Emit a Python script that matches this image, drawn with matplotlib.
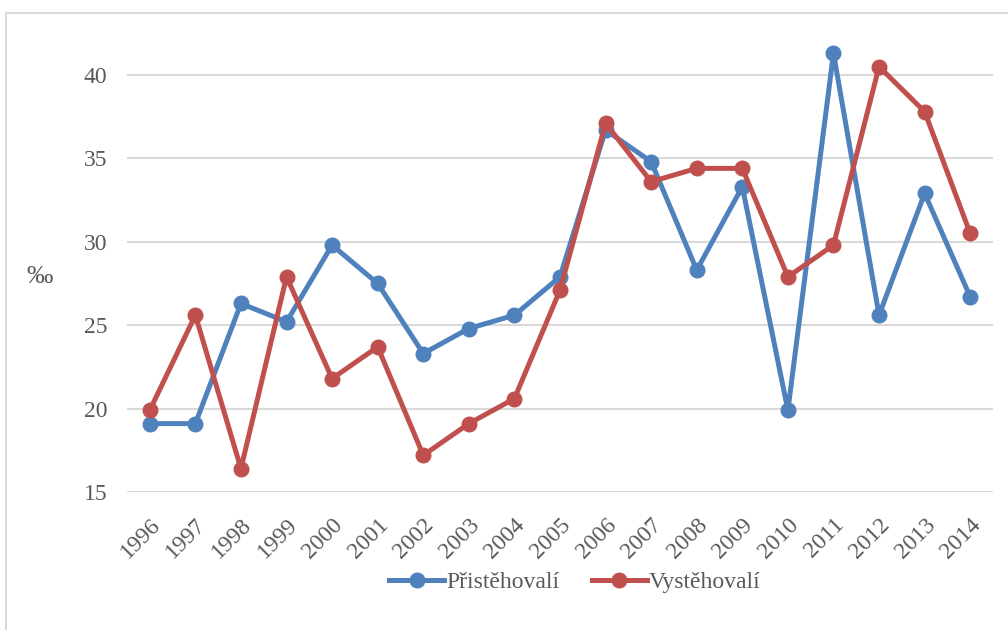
import matplotlib
matplotlib.use("Agg")
import matplotlib.pyplot as plt
from matplotlib.lines import Line2D

# data
years = [str(y) for y in range(1996, 2015)]
pristehovali = [19.1, 19.1, 26.3, 25.2, 29.8, 27.5, 23.3, 24.8, 25.6, 27.9,
                36.7, 34.8, 28.3, 33.3, 19.9, 41.3, 25.6, 32.9, 26.7]
vystehovali = [19.9, 25.6, 16.4, 27.9, 21.8, 23.7, 17.2, 19.1, 20.6, 27.1,
               37.1, 33.6, 34.4, 34.4, 27.9, 29.8, 40.5, 37.8, 30.5]
yticks = [15, 20, 25, 30, 35, 40]

plt.rcParams['font.family'] = ['Liberation Serif', 'DejaVu Serif']

fig = plt.figure(figsize=(10.08, 6.3), dpi=100)
ax = fig.add_axes([127/1008, 1 - 492/630, 866/1008, (492 - 41.6)/630])

x = range(len(years))
ax.plot(x, pristehovali, color='#4F81BD', lw=3.6, marker='o', ms=10.5,
        label='Přistěhovalí', clip_on=False, zorder=3)
ax.plot(x, vystehovali, color='#C0504D', lw=3.6, marker='o', ms=10.5,
        label='Vystěhovalí', clip_on=False, zorder=4)

ax.set_xlim(-0.5, len(years) - 0.5)
ax.set_ylim(15, 42)
ax.set_yticks(yticks)
ax.set_xticks(list(x))
ax.set_xticklabels(years, rotation=45, ha='right', va='top',
                   rotation_mode='anchor')
ax.tick_params(axis='both', length=0, labelsize=17, colors='#595959')
ax.tick_params(axis='y', pad=14)
ax.tick_params(axis='x', pad=16)
ax.grid(axis='y', color='#D9D9D9', lw=1.5)
ax.set_axisbelow(True)
for s in ax.spines.values():
    s.set_visible(False)

fig.text(40/1008, 1 - 277/630, '‰', fontsize=19, color='#595959',
         ha='center', va='center')

fig.legend(loc='center', bbox_to_anchor=(575/1008, 1 - 582/630), ncol=2,
           frameon=False, fontsize=17, handlelength=2.3, handletextpad=0.1,
           columnspacing=1.4, labelcolor='#595959')

# frame around chart
fig.add_artist(Line2D([6/1008, 6/1008], [0, 1 - 13/630], color='#D9D9D9', lw=1.5))
fig.add_artist(Line2D([6/1008, 1], [1 - 13/630, 1 - 13/630], color='#D9D9D9', lw=1.5))

fig.savefig('out.png', dpi=100)
